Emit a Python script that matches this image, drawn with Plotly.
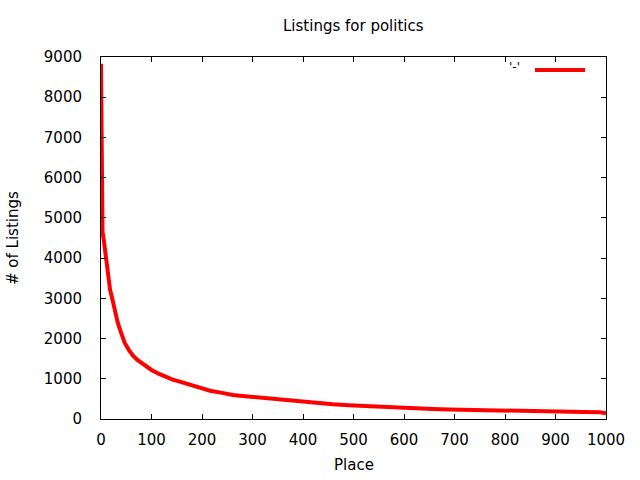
import plotly.graph_objects as go

place = [0, 1, 2, 3, 5, 8, 11, 14, 18, 23, 28, 33, 38, 42, 47, 55, 63, 72, 81, 90,
         100, 115, 129, 142, 156, 170, 182, 196, 216, 240, 261, 290, 329, 360, 394,
         425, 459, 490, 527, 560, 592, 625, 657, 690, 725, 757, 790, 822, 855, 890,
         923, 955, 988, 1000]
listings = [8830, 6320, 4900, 4650, 4500, 4200, 3880, 3500, 3210, 2950, 2640, 2400,
            2210, 2050, 1890, 1720, 1580, 1470, 1390, 1300, 1220, 1120, 1044, 980,
            927, 870, 828, 760, 704, 650, 597, 560, 515, 465, 423, 395, 365, 340,
            316, 295, 273, 260, 249, 235, 224, 214, 206, 198, 191, 186, 181, 174,
            167, 142]

x_ticks = list(range(0, 1001, 100))
y_ticks = list(range(0, 9001, 1000))

FONT = "DejaVu Sans"
FS = 15

fig = go.Figure()
fig.add_trace(go.Scatter(x=place, y=listings, mode="lines",
                         line=dict(color="#ff0000", width=4),
                         showlegend=False, hoverinfo="skip"))

axis_common = dict(showgrid=False, zeroline=False, showline=True, linecolor="black",
                   linewidth=1, mirror="allticks", ticks="inside", ticklen=5,
                   tickcolor="black", tickfont=dict(family=FONT, size=FS, color="black"))

fig.update_layout(
    width=640, height=480,
    margin=dict(l=101, r=34, t=57, b=61, pad=0),
    plot_bgcolor="white", paper_bgcolor="white",
    xaxis=dict(range=[0, 1000], tickvals=x_ticks, ticklabelstandoff=7, **axis_common),
    yaxis=dict(range=[0, 9000], tickvals=y_ticks, ticklabelstandoff=15, **axis_common),
    annotations=[
        dict(text="Listings for politics", xref="paper", yref="paper", x=0.5, y=1,
             yshift=31, showarrow=False, xanchor="center", yanchor="middle",
             font=dict(family=FONT, size=FS, color="black")),
        dict(text="Place", xref="paper", yref="paper", x=0.5, y=0,
             yshift=-46, showarrow=False, xanchor="center", yanchor="middle",
             font=dict(family=FONT, size=FS, color="black")),
        dict(text="# of Listings", xref="paper", yref="paper", x=0, y=0.5,
             xshift=-88, showarrow=False, xanchor="center", yanchor="middle",
             textangle=-90, font=dict(family=FONT, size=FS, color="black")),
        dict(text="'-'", xref="paper", yref="paper", x=(522 - 101) / 505, y=(419 - 67) / 362,
             showarrow=False, xanchor="right", yanchor="middle",
             font=dict(family=FONT, size=12, color="black")),
    ],
    shapes=[
        dict(type="line", xref="paper", yref="paper",
             x0=(535 - 101) / 505, x1=(585 - 101) / 505,
             y0=(419 - 70) / 362, y1=(419 - 70) / 362,
             line=dict(color="#ff0000", width=4)),
    ],
)

fig.write_html("out.html", config={"displayModeBar": False},
               post_script="document.body.style.margin='0';")
